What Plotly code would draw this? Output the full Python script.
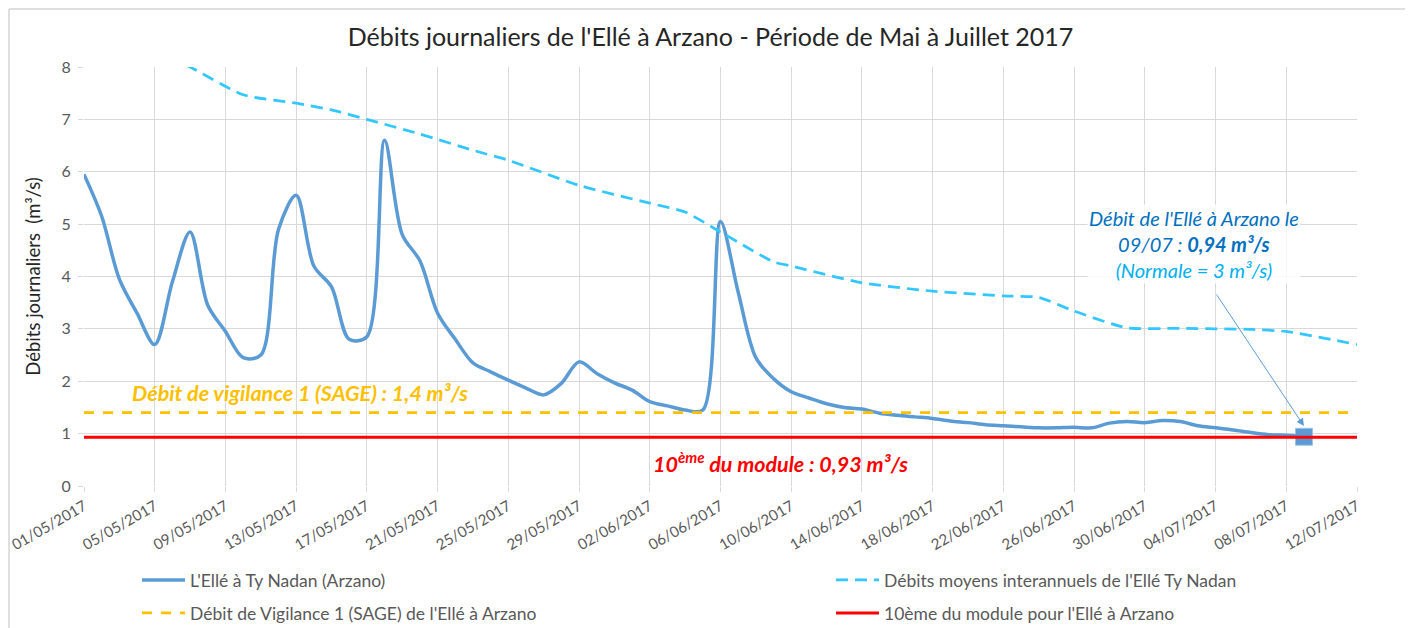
import pandas as pd
import plotly.graph_objects as go

# ---------------- DATA ----------------
start_date = "2017-05-01"
daily_flow = [
    5.95, 5.15, 3.95, 3.3, 2.7, 3.9, 4.85, 3.45, 2.95, 2.45,
    2.5, 4.9, 5.55, 4.2, 3.8, 2.8, 2.85, 6.6, 4.8, 4.3,
    3.3, 2.8, 2.35, 2.18, 2.02, 1.87, 1.74, 1.96, 2.37, 2.15,
    1.97,
    1.83, 1.61, 1.53, 1.45, 1.45, 5.05, 3.7, 2.45, 2.05, 1.8,
    1.68, 1.57, 1.5, 1.47, 1.39, 1.35, 1.32, 1.29, 1.24, 1.21,
    1.17, 1.15, 1.13, 1.11, 1.11, 1.12, 1.11, 1.2, 1.23, 1.21,
    1.25, 1.23, 1.15, 1.11, 1.07, 1.02, 0.98, 0.97, 0.94,
]
flow_dates = pd.date_range(start_date, periods=len(daily_flow), freq="D")

mean_dates = ["2017-05-01", "2017-05-04", "2017-05-07", "2017-05-10", "2017-05-13",
              "2017-05-15", "2017-05-17", "2017-05-20", "2017-05-23", "2017-05-25",
              "2017-05-29", "2017-06-02", "2017-06-04", "2017-06-06", "2017-06-09",
              "2017-06-10", "2017-06-14", "2017-06-18", "2017-06-22", "2017-06-24",
              "2017-06-26", "2017-06-29", "2017-07-02", "2017-07-06", "2017-07-08",
              "2017-07-12"]
mean_flow = [9.0, 8.45, 8.0, 7.47, 7.31,
             7.18, 7.0, 6.72, 6.41, 6.22,
             5.74, 5.4, 5.23, 4.85, 4.28,
             4.2, 3.88, 3.72, 3.63, 3.6,
             3.34, 3.02, 3.01, 2.99, 2.95,
             2.7]

line_dates = ["2017-05-01", "2017-07-12"]
vigilance = 1.4
module_10 = 0.93

last_date = "2017-07-09"
last_value = 0.94

tick_dates = list(pd.date_range("2017-05-01", "2017-07-12", freq="4D"))

names = ["L'Ellé à Ty Nadan (Arzano)",
         "Débits moyens interannuels de l'Ellé Ty Nadan",
         "Débit de Vigilance 1 (SAGE) de l'Ellé à Arzano",
         "10ème du module pour l'Ellé à Arzano"]

# ---------------- FIGURE ----------------
FONT = "Lato"
GREY = "#595959"
OFF = 8  # page body margin of the browser
W, H = 1413 - OFF, 628 - OFF
L, R, T, B = 84 - OFF, 56, 67 - OFF, 142
PW, PH = W - L - R, H - T - B


def px_x(px):  # screen pixel -> paper
    return (px - OFF - L) / PW


def px_y(py):
    return (H - B - (py - OFF)) / PH


fig = go.Figure()

fig.add_trace(go.Scatter(
    x=[pd.Timestamp(last_date)], y=[last_value], mode="markers", showlegend=False,
    marker=dict(symbol="square", size=17, color="#5B9BD5",
                line=dict(color="#9DC3E6", width=1))))
fig.add_trace(go.Scatter(
    x=flow_dates, y=daily_flow, mode="lines", name=names[0],
    line=dict(color="#5B9BD5", width=3.5, shape="spline", smoothing=0.9),
    legend="legend"))
fig.add_trace(go.Scatter(
    x=pd.to_datetime(mean_dates), y=mean_flow, mode="lines", name=names[1],
    line=dict(color="#33C6FF", width=2.75, dash="12px,7px", shape="spline", smoothing=0.6),
    legend="legend2"))
fig.add_trace(go.Scatter(
    x=pd.to_datetime(line_dates), y=[vigilance, vigilance], mode="lines", name=names[2],
    line=dict(color="#FFC000", width=2.75, dash="10px,9px"),
    legend="legend3"))
fig.add_trace(go.Scatter(
    x=pd.to_datetime(line_dates), y=[module_10, module_10], mode="lines", name=names[3],
    line=dict(color="#FF0000", width=3),
    legend="legend4"))

fig.update_layout(
    width=W, height=H,
    margin=dict(l=L, r=R, t=T, b=B, autoexpand=False),
    paper_bgcolor="white", plot_bgcolor="white",
    font=dict(family=FONT, color=GREY),
    title=dict(text="Débits journaliers de l'Ellé à Arzano - Période de Mai à Juillet 2017",
               x=0.5, xanchor="center", y=1 - (37 - OFF) / H, yanchor="middle",
               font=dict(family=FONT, size=25, color="#262626")),
    showlegend=True,
)

fig.update_xaxes(
    type="date", range=["2017-05-01", "2017-07-12"],
    tickmode="array", tickvals=tick_dates, tickformat="%d/%m/%Y",
    tickangle=-30, tickfont=dict(family=FONT, size=15, color=GREY),
    ticklabeloverflow="allow",
    showgrid=True, gridcolor="#D9D9D9", gridwidth=1,
    ticks="outside", ticklen=5, tickcolor="#D9D9D9",
    showline=False, zeroline=False, automargin=False,
)
fig.update_yaxes(
    range=[0, 8], dtick=1, tick0=0,
    tickfont=dict(family=FONT, size=16, color=GREY),
    showgrid=True, gridcolor="#D9D9D9", gridwidth=1,
    ticks="outside", ticklen=5, tickcolor="#D9D9D9", ticklabelstandoff=4,
    showline=False, zeroline=False, automargin=False,
    title=dict(text="Débits journaliers  (m³/s)", font=dict(family=FONT, size=18.5, color="#262626"),
               standoff=16),
)

leg_common = dict(orientation="h", yanchor="middle", xanchor="left", bgcolor="rgba(0,0,0,0)",
                  itemwidth=43, font=dict(family=FONT, size=17.5, color=GREY))
row1 = px_y(580)
row2 = px_y(613)
c1 = px_x(137)
c2 = px_x(831)
fig.update_layout(
    legend=dict(x=c1, y=row1, **leg_common),
    legend2=dict(x=c2, y=row1, **leg_common),
    legend3=dict(x=c1, y=row2, **leg_common),
    legend4=dict(x=c2, y=row2, **leg_common),
)

# labels
fig.add_annotation(
    xref="paper", yref="paper", x=px_x(300), y=px_y(393), xanchor="center", yanchor="middle",
    text="<b><i>Débit de vigilance 1 (SAGE) : 1,4 m³/s</i></b>", showarrow=False,
    font=dict(family=FONT, size=21.5, color="#FFC000"))
fig.add_annotation(
    xref="paper", yref="paper", x=px_x(780), y=px_y(462), xanchor="center", yanchor="middle",
    text="<b><i>10<sup>ème</sup> du module : 0,93 m³/s</i></b>", showarrow=False,
    font=dict(family=FONT, size=21.5, color="#FF0000"))
fig.add_annotation(
    xref="paper", yref="paper", x=px_x(1194), y=px_y(244), xanchor="center", yanchor="middle",
    text=("<i>Débit de l'Ellé à Arzano le</i><br>"
          "<i>09/07 : <b>0,94 m³/s</b></i><br>"
          "<span style='color:#00B0F0'><i>(Normale = 3 m³/s)</i></span>"),
    showarrow=False, align="center",
    font=dict(family=FONT, size=20, color="#0070C0"), bgcolor="rgba(255,255,255,0.8)")
# arrow
fig.add_annotation(
    x=pd.Timestamp(last_date), y=(486 - 426) / 52.4, xref="x", yref="y",
    ax=pd.Timestamp("2017-07-04"), ay=(486 - 293) / 52.4, axref="x", ayref="y",
    text="", showarrow=True, arrowhead=2, arrowsize=1.5, arrowwidth=1,
    arrowcolor="#5B9BD5")

# outer chart frame
fig.add_shape(type="rect", xref="paper", yref="paper",
              x0=px_x(9), x1=px_x(1409), y0=px_y(640), y1=px_y(9),
              line=dict(color="#BFBFBF", width=1), layer="below")

fig.write_html("out.html")
